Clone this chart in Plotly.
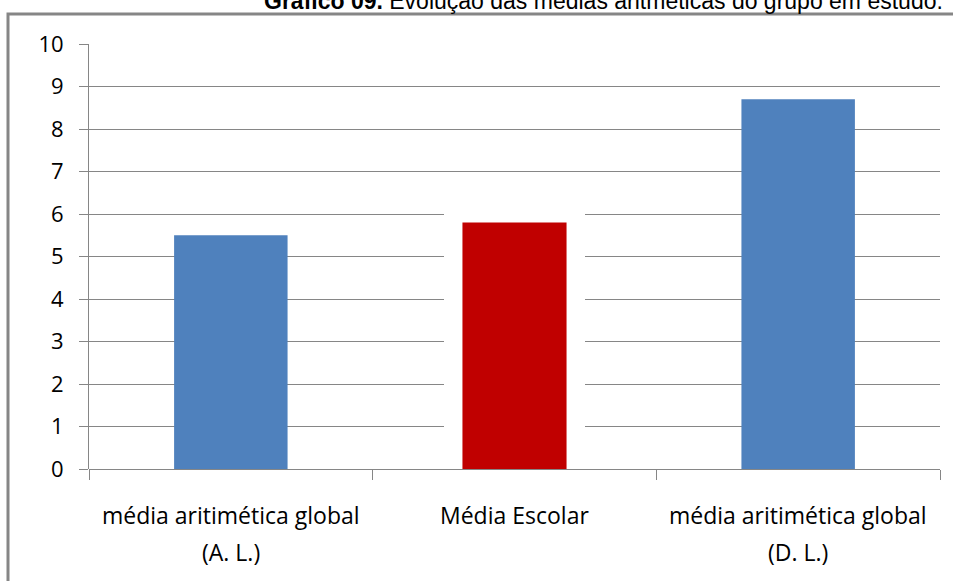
import plotly.graph_objects as go

categories = ["média aritimética global (A. L.)", "Média Escolar", "média aritimética global (D. L.)"]
label_line1 = ["média aritimética global", "Média Escolar", "média aritimética global"]
label_line2 = ["(A. L.)", "", "(D. L.)"]
values = [5.5, 5.8, 8.7]
colors = ["#4F81BD", "#C00000", "#4F81BD"]
bar_widths = [0.4, 0.367, 0.4]
y_ticks = [0, 1, 2, 3, 4, 5, 6, 7, 8, 9, 10]

W, H = 953, 581
L, R, T, B = 89, 13, 44, 112
PH = H - T - B
PW = W - L - R

def py(pix):
    return (H - B - pix) / PH

def px(pix):
    return (pix - L) / PW

fig = go.Figure()
fig.add_trace(go.Bar(x=categories, y=values, marker=dict(color=colors, line=dict(width=0)),
                     width=bar_widths, showlegend=False))

grid_col = "#868686"
axis_font = dict(family="Open Sans", size=23, color="#000000")
ytick_font = dict(family="Open Sans", size=22, color="#000000")

fig.update_layout(
    width=W, height=H,
    margin=dict(l=L, r=R, t=T, b=B),
    paper_bgcolor="white", plot_bgcolor="white",
    xaxis=dict(type="category", showticklabels=False, tickson="boundaries",
               ticks="outside", ticklen=10, tickcolor=grid_col, tickwidth=1,
               showgrid=False, zeroline=False, showline=False),
    yaxis=dict(range=[0, 10], tickvals=y_ticks, ticks="outside", ticklen=9,
               tickcolor=grid_col, tickwidth=1, showgrid=True, gridcolor=grid_col,
               gridwidth=1, zeroline=True, zerolinecolor=grid_col, zerolinewidth=1,
               showline=True, linecolor=grid_col, linewidth=1,
               tickfont=ytick_font, ticklabelstandoff=11),
)

annotations = []
for c, l1, l2 in zip(categories, label_line1, label_line2):
    annotations.append(dict(x=c, xref="x", y=py(515), yref="paper", text=l1,
                            showarrow=False, font=axis_font, xanchor="center", yanchor="middle"))
    if l2:
        annotations.append(dict(x=c, xref="x", y=py(552), yref="paper", text=l2,
                                showarrow=False, font=axis_font, xanchor="center", yanchor="middle"))

annotations.append(dict(
    x=px(945), xref="paper", y=py(1), yref="paper", xanchor="right", yanchor="middle",
    text="<b>Gráfico 09.</b> Evolução das médias aritméticas do grupo em estudo.",
    showarrow=False, font=dict(family="Liberation Sans", size=23, color="#000000")))
fig.update_layout(annotations=annotations)

# outer frame
fig.add_shape(type="rect", xref="paper", yref="paper", x0=px(8), x1=px(1100),
              y0=py(700), y1=py(14), line=dict(color=grid_col, width=3), layer="above")
# white patch behind red bar (hides gridlines there)
unit = PW / len(categories)
fig.add_shape(type="rect", xref="x", yref="y",
              x0=(444 - L) / unit - 0.5, x1=(585 - L) / unit - 0.5,
              y0=-0.1, y1=(H - B - 195) / (PH / 10),
              fillcolor="white", line=dict(width=0), layer="between")

fig.write_html("out.html")
